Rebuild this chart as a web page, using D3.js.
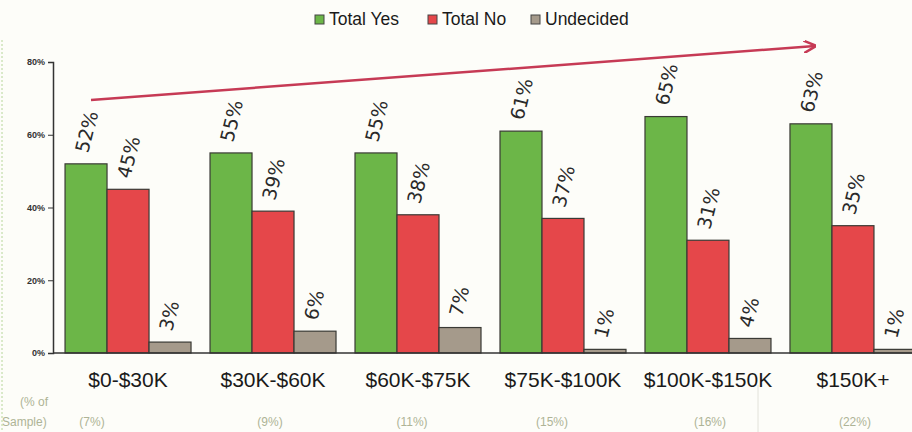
<!DOCTYPE html>
<html>
<head>
<meta charset="utf-8">
<script src="https://d3js.org/d3.v7.min.js"></script>
<style>
  body { margin: 0; background: #fdfdf9; }
  svg { display: block; }
</style>
</head>
<body>
<div id="chart"></div>
<script>
// data
var categories = ["$0-$30K", "$30K-$60K", "$60K-$75K", "$75K-$100K", "$100K-$150K", "$150K+"];
var series = ["Total Yes", "Total No", "Undecided"];
var totalYes = [52, 55, 55, 61, 65, 63];
var totalNo = [45, 39, 38, 37, 31, 35];
var undecided = [3, 6, 7, 1, 4, 1];
var sampleShare = ["(7%)", "(9%)", "(11%)", "(15%)", "(16%)", "(22%)"];
var yTicks = [0, 20, 40, 60, 80];

var colors = ["#6cb648", "#e5474a", "#a59a8b"];
// the sample row is not quite centred under each group
var shareNudge = [-36, -3, -6, -11, 2, 2];

var width = 912, height = 432;
var margin = {left: 53, top: 62, bottom: 79};

var svg = d3.select("#chart").append("svg")
    .attr("width", width)
    .attr("height", height);

var rows = categories.map(function(c, i) {
  return {cat: c, values: [totalYes[i], totalNo[i], undecided[i]]};
});

var x0 = d3.scaleBand()
    .domain(categories)
    .range([margin.left, 928])
    .paddingInner(0.131)
    .paddingOuter(0.083);

var x1 = d3.scaleBand()
    .domain(series)
    .range([0, x0.bandwidth()]);

var y = d3.scaleLinear()
    .domain([0, 80])
    .range([height - margin.bottom, margin.top]);

// y axis
var yAxis = svg.append("g")
    .attr("transform", "translate(" + margin.left + ",0)")
    .call(d3.axisLeft(y).tickValues(yTicks).tickSize(5).tickFormat(function(d){ return d + "%"; }));
yAxis.select(".domain").attr("stroke", "#333").attr("stroke-width", 1.5);
yAxis.selectAll(".tick line").attr("stroke", "#333");
yAxis.selectAll("text")
    .attr("font-family", "Arial, 'Liberation Sans', sans-serif")
    .attr("font-size", 9)
    .attr("font-weight", "bold")
    .attr("fill", "#333")
    .attr("x", -8);

// bars
var groups = svg.selectAll(".grp")
    .data(rows)
    .enter().append("g")
    .attr("transform", function(d){ return "translate(" + x0(d.cat) + ",0)"; });

groups.selectAll("rect")
    .data(function(d){ return d.values.map(function(v, k){ return {key: series[k], v: v, k: k}; }); })
    .enter().append("rect")
    .attr("x", function(d){ return x1(d.key); })
    .attr("y", function(d){ return y(d.v); })
    .attr("width", x1.bandwidth())
    .attr("height", function(d){ return y(0) - y(d.v); })
    .attr("fill", function(d){ return colors[d.k]; })
    .attr("stroke", "#3a3a35")
    .attr("stroke-width", 1.2);

// rotated value labels
groups.selectAll("text.val")
    .data(function(d){ return d.values.map(function(v, k){ return {key: series[k], v: v}; }); })
    .enter().append("text")
    .attr("class", "val")
    .attr("transform", function(d){
      return "translate(" + (x1(d.key) + x1.bandwidth() / 2 + 2) + "," + (y(d.v) - 10) + ") rotate(-76)";
    })
    .attr("font-family", "'DejaVu Sans', sans-serif")
    .attr("font-size", 19)
    .attr("fill", "#2a2a2a")
    .text(function(d){ return d.v + "%"; });

// x axis line
svg.append("line")
    .attr("x1", margin.left).attr("x2", width)
    .attr("y1", y(0)).attr("y2", y(0))
    .attr("stroke", "#333").attr("stroke-width", 1.5);

// category labels
svg.selectAll("text.cat")
    .data(categories)
    .enter().append("text")
    .attr("class", "cat")
    .attr("x", function(d){ return x0(d) + x0.bandwidth() / 2; })
    .attr("y", 387)
    .attr("text-anchor", "middle")
    .attr("font-family", "Arial, 'Liberation Sans', sans-serif")
    .attr("font-size", 21)
    .attr("fill", "#1a1a1a")
    .text(function(d){ return d; });

// sample share row
svg.selectAll("text.share")
    .data(sampleShare)
    .enter().append("text")
    .attr("class", "share")
    .attr("x", function(d, i){ return x0(categories[i]) + x0.bandwidth() / 2 + shareNudge[i]; })
    .attr("y", 426)
    .attr("text-anchor", "middle")
    .attr("font-family", "Arial, 'Liberation Sans', sans-serif")
    .attr("font-size", 12)
    .attr("fill", "#aeb496")
    .text(function(d){ return d; });

svg.append("text").attr("x", 20).attr("y", 406)
    .attr("font-family", "Arial, 'Liberation Sans', sans-serif").attr("font-size", 12)
    .attr("fill", "#aeb496").text("(% of");
svg.append("text").attr("x", 2).attr("y", 426)
    .attr("font-family", "Arial, 'Liberation Sans', sans-serif").attr("font-size", 12)
    .attr("fill", "#aeb496").text("Sample)");

svg.append("line")
    .attr("x1", 758).attr("x2", 758).attr("y1", 385).attr("y2", height)
    .attr("stroke", "#e2e2da").attr("stroke-width", 1);

svg.append("line")
    .attr("x1", 2).attr("x2", 2).attr("y1", 40).attr("y2", height)
    .attr("stroke", "#b6d69a").attr("stroke-width", 1).attr("stroke-dasharray", "2,2");

// trend arrow
svg.append("defs").append("marker")
    .attr("id", "head")
    .attr("viewBox", "0 0 10 10")
    .attr("refX", 9).attr("refY", 5)
    .attr("markerWidth", 5).attr("markerHeight", 5)
    .attr("orient", "auto")
    .append("path")
    .attr("d", "M0,0 L10,5 L0,10")
    .attr("fill", "none")
    .attr("stroke", "#c63a55")
    .attr("stroke-width", 2);

svg.append("line")
    .attr("x1", 91).attr("y1", 100)
    .attr("x2", 815).attr("y2", 46)
    .attr("stroke", "#c63a55")
    .attr("stroke-width", 2.5)
    .attr("marker-end", "url(#head)");

// legend
var legendX = [315, 428, 531];
var legend = svg.selectAll(".leg")
    .data(series)
    .enter().append("g")
    .attr("transform", function(d, i){ return "translate(" + legendX[i] + ",15)"; });
legend.append("rect")
    .attr("width", 9).attr("height", 9)
    .attr("fill", function(d, i){ return colors[i]; })
    .attr("stroke", "#444").attr("stroke-width", 1);
legend.append("text")
    .attr("x", 14).attr("y", 10)
    .attr("font-family", "Arial, 'Liberation Sans', sans-serif")
    .attr("font-size", 17.5)
    .attr("fill", "#1a1a1a")
    .text(function(d){ return d; });
</script>
</body>
</html>
